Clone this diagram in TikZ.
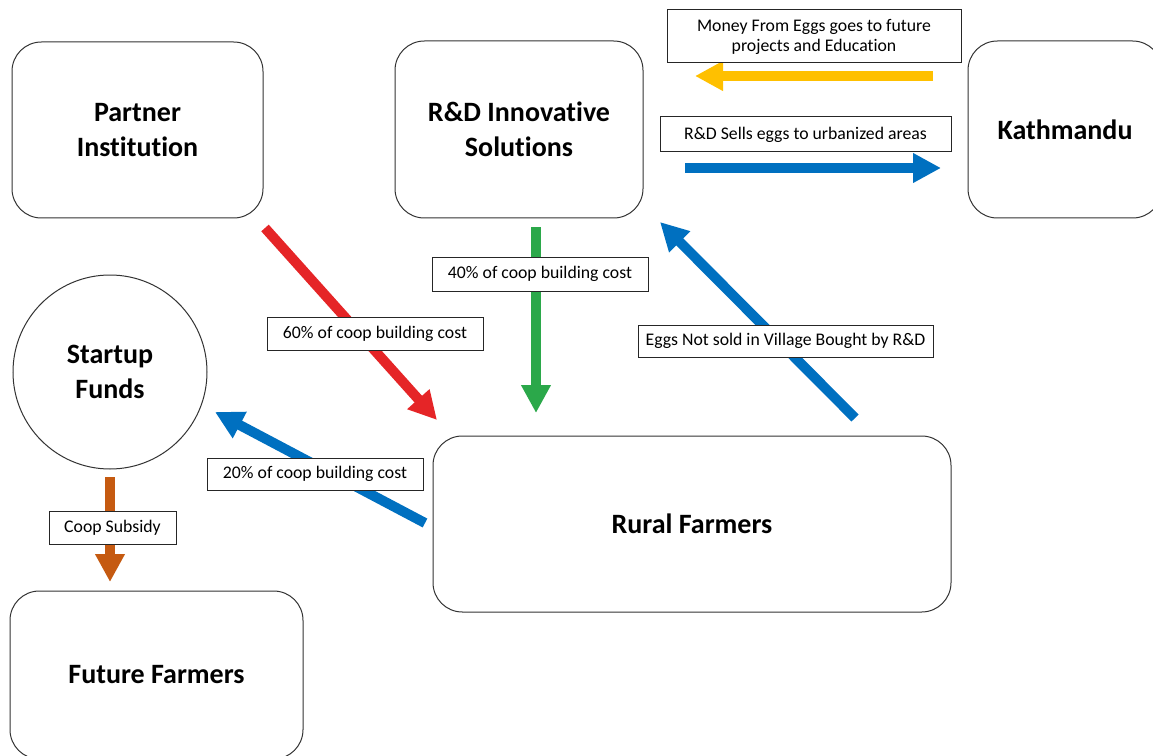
\documentclass[tikz,border=0pt]{standalone}
\usepackage{fontspec}
\setmainfont{Carlito}[Ligatures=NoCommon]
\usetikzlibrary{arrows.meta}
\definecolor{cred}{HTML}{E52527}
\definecolor{cgreen}{HTML}{2BA84A}
\definecolor{cblue}{HTML}{0070C0}
\definecolor{corange}{HTML}{C55A11}
\definecolor{cyellow}{HTML}{FFC000}
\begin{document}
\begin{tikzpicture}[x=0.75pt,y=-0.75pt,
  mainbox/.style={draw=black!80, line width=0.75pt, rounded corners=22pt, fill=white,
    font=\fontsize{21}{26}\selectfont\bfseries, align=center, inner sep=0pt},
  lbl/.style={draw=black!85, line width=0.75pt, fill=white,
    font=\fontsize{13.3}{15}\selectfont, inner sep=0pt, align=center},
  fat/.style={line width=7.5pt, -{Triangle[length=21pt,width=21pt]}}]
\useasboundingbox (0,0) rectangle (1153,756);

% main nodes
\node[mainbox, minimum width=188.25pt, minimum height=132pt] (partner) at (137.5,130) {Partner\\Institution};
\node[mainbox, minimum width=186pt, minimum height=132.75pt] (rd) at (519,129.5) {R\&D Innovative\\Solutions};
\node[mainbox, minimum width=145.5pt, minimum height=132.75pt] (kath) at (1065,129.5) {Kathmandu};
\node[mainbox, circle, rounded corners=0pt, minimum size=145.5pt] (startup) at (110,372) {Startup\\Funds};
\node[mainbox, minimum width=388.5pt, minimum height=132pt] (rural) at (692,524) {Rural Farmers};
\node[mainbox, minimum width=219.75pt, minimum height=126pt] (future) at (156.5,675) {Future Farmers};

% arrow end points
\coordinate (redS) at (265,228);   \coordinate (redE) at (437,420);
\coordinate (grnS) at (536,227);   \coordinate (grnE) at (536,413);
\coordinate (b1S) at (855,418);    \coordinate (b1E) at (660,222);
\coordinate (b2S) at (425,523);    \coordinate (b2E) at (215,412);
\coordinate (orS) at (110,477);    \coordinate (orE) at (110,582);
\coordinate (yS) at (933,76);      \coordinate (yE) at (695,76);
\coordinate (b3S) at (685,168);    \coordinate (b3E) at (941,168);

\draw[fat, cred] (redS) -- (redE);
\draw[fat, cgreen] (grnS) -- (grnE);
\draw[fat, cblue] (b1S) -- (b1E);
\draw[fat, cblue] (b2S) -- (b2E);
\draw[fat, corange] (orS) -- (orE);
\draw[fat, cyellow] (yS) -- (yE);
\draw[fat, cblue] (b3S) -- (b3E);

% labels
\node[lbl, minimum width=220.5pt, minimum height=39.75pt] (lmoney) at (814,36.5) {Money From Eggs goes to future\\projects and Education};
\node[lbl, minimum width=218.25pt, minimum height=26.25pt] (lsells) at (805.5,134.5) {R\&D Sells eggs to urbanized\ areas};
\node[lbl, minimum width=162pt, minimum height=25.5pt] (l40) at (540,274) {40\% of coop building cost};
\node[lbl, minimum width=162pt, minimum height=24.75pt] (l60) at (375,333.5) {60\% of coop building cost};
\node[lbl, minimum width=221.25pt, minimum height=24pt] (leggs) at (785.5,341) {Eggs Not sold in Village Bought by R\&D};
\node[lbl, minimum width=162pt, minimum height=24pt] (l20) at (315,474) {20\% of coop building cost};
\node[lbl, minimum width=95.25pt, minimum height=24.75pt] (lcoop) at (112.5,527.5) {Coop Subsidy};
\end{tikzpicture}
\end{document}
